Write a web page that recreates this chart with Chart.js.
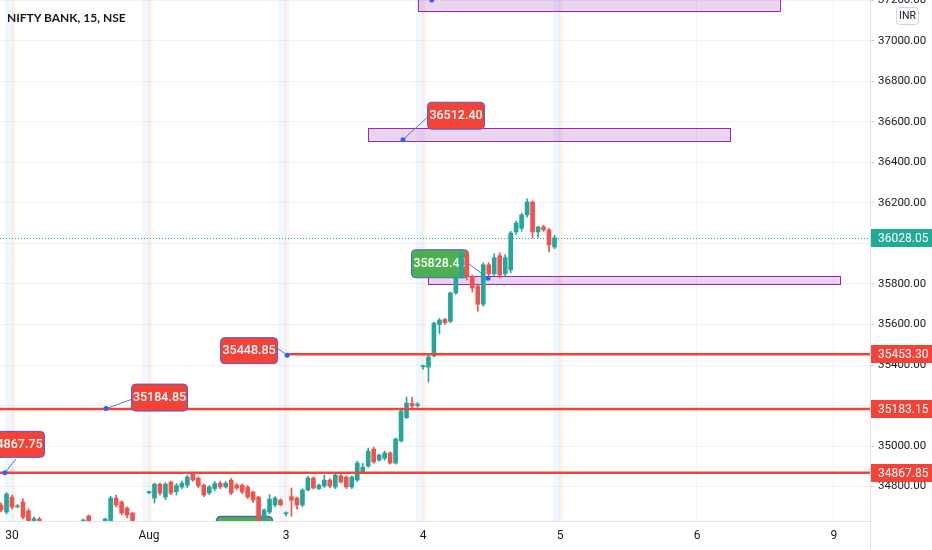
<!DOCTYPE html>
<html>
<head>
<meta charset="utf-8">
<script src="https://cdn.jsdelivr.net/npm/chart.js@4.4.1/dist/chart.umd.min.js"></script>
<style>
    html, body { margin: 0; padding: 0; background: #fff; }
    #wrap { position: relative; width: 932px; height: 550px; }
    #title { position: absolute; left: 7px; top: 10px; line-height: 16px; font: 700 12px Lato, sans-serif; color: #131722; }
</style>
</head>
<body>
<div id="wrap">
    <canvas id="chart" width="932" height="550"></canvas>
    <div id="title">NIFTY BANK, 15, NSE</div>
</div>
<script>
// 15 min bars, bar 0 = Jul 30 09:15, 25 bars per session
const firstBar = -2;

const opens = [
    34709, 34674,
    34748, 34700, 34724, 34680, 34600, 34640, 34600, 34555, 34520, 34545, 34500, 34530, 34575, 34560, 34655, 34610, 34575, 34590, 34620, 34743, 34724, 34694, 34669, 34610, 34575,
    34770, 34743, 34812, 34748, 34822, 34775, 34798, 34807, 34862, 34842, 34807, 34768, 34790, 34817, 34798, 34832, 34807, 34807, 34798, 34773, 34748, 34600, 34674, 34709, 34733,
    34666, 34750, 34743, 34709, 34783, 34842, 34790, 34803, 34832, 34798, 34852, 34847, 34798, 34832, 34872, 34901, 34985, 34931, 34940, 34966, 34916, 35025, 35140, 35212, 35200,
    35392, 35390, 35445, 35600, 35625, 35615, 35756, 35835, 35950, 35838, 35790, 35700, 35895, 35850, 35940, 35850, 35870, 36057, 36075, 36141, 36205, 36057, 36082, 36067, 35983
];
const highs = [
    34720, 34770,
    34758, 34712, 34740, 34690, 34650, 34648, 34610, 34580, 34560, 34570, 34540, 34590, 34600, 34640, 34660, 34625, 34600, 34645, 34752, 34758, 34730, 34700, 34672, 34620, 34600,
    34778, 34817, 34817, 34820, 34827, 34815, 34827, 34857, 34872, 34848, 34812, 34805, 34825, 34825, 34825, 34840, 34815, 34812, 34805, 34778, 34752, 34690, 34760, 34750, 34740,
    34675, 34793, 34748, 34790, 34850, 34848, 34812, 34857, 34840, 34862, 34860, 34852, 34852, 34926, 34915, 34990, 34995, 34960, 34975, 34972, 35040, 35178, 35242, 35240, 35215,
    35400, 35455, 35612, 35630, 35630, 35760, 35845, 35960, 35965, 35845, 35800, 35905, 35905, 35950, 35955, 35945, 36060, 36110, 36150, 36220, 36210, 36085, 36090, 36075, 36040
];
const lows = [
    34675, 34665,
    34690, 34695, 34640, 34600, 34585, 34590, 34540, 34500, 34470, 34490, 34450, 34520, 34540, 34555, 34600, 34560, 34550, 34580, 34615, 34700, 34660, 34645, 34590, 34560, 34560,
    34765, 34719, 34758, 34735, 34760, 34758, 34790, 34795, 34825, 34795, 34750, 34760, 34780, 34790, 34792, 34760, 34785, 34765, 34740, 34720, 34560, 34580, 34665, 34700, 34705,
    34655, 34654, 34689, 34700, 34778, 34788, 34785, 34795, 34795, 34790, 34818, 34790, 34790, 34825, 34865, 34895, 34915, 34925, 34930, 34910, 34910, 35020, 35135, 35190, 35192,
    35380, 35316, 35440, 35555, 35600, 35610, 35750, 35830, 35820, 35760, 35665, 35690, 35835, 35840, 35830, 35840, 35855, 36045, 36060, 36130, 36027, 36030, 36060, 35958, 35975
];
const closes = [
    34684, 34763,
    34699, 34705, 34649, 34615, 34642, 34600, 34555, 34520, 34545, 34500, 34530, 34575, 34560, 34635, 34610, 34575, 34590, 34640, 34743, 34709, 34669, 34659, 34610, 34575, 34584,
    34773, 34812, 34768, 34812, 34768, 34805, 34817, 34847, 34832, 34803, 34758, 34798, 34815, 34798, 34817, 34768, 34793, 34773, 34748, 34733, 34590, 34684, 34738, 34743, 34710,
    34669, 34733, 34709, 34783, 34842, 34793, 34807, 34832, 34803, 34857, 34822, 34798, 34847, 34916, 34896, 34975, 34921, 34956, 34966, 34916, 35035, 35173, 35212, 35198, 35207,
    35395, 35440, 35607, 35622, 35610, 35756, 35835, 35945, 35838, 35780, 35700, 35895, 35850, 35930, 35845, 35930, 36052, 36101, 36141, 36205, 36057, 36082, 36067, 35993, 36028.05
];

const dayStarts = [0, 25, 50, 75, 100, 125, 150];
const dayLabels = ['30', 'Aug', '3', '4', '5', '6', '9'];
const priceTicks = [34800, 35000, 35200, 35400, 35600, 35800, 36000, 36200, 36400, 36600, 36800, 37000, 37200];

const levelPrices = [35453.30, 35183.15, 34867.85];
const levelStarts = [50.2, -3, -3];
const lastPrice = 36028.05;

const UP = '#26a69a';
const DOWN = '#ef5350';
const RED = '#f44336';
const LINK = '#5b6ee1';

// purple zones: bar range and price range
const zones = [
    { from: 74.1, to: 140.1, low: 37148, high: 37400 },
    { from: 65.0, to: 131.0, low: 36506, high: 36570 },
    { from: 75.9, to: 151.1, low: 35797, high: 35838 }
];
const zoneDots = [[76.6, 37202]];

// callouts: anchor (bar, price), box offset from anchor [dx, dy, w, h], link tip offset
const callouts = [
    { text: '36512.40', bar: 71.35, price: 36512.40, box: [24, -38, 57, 27], tip: [24, -22] },
    { text: '35448.85', bar: 50.2, price: 35448.85, box: [-67, -18, 57, 26], tip: [-10, -7] },
    { text: '35184.85', bar: 17.15, price: 35184.85, box: [25, -25, 56, 27], tip: [25, -9] },
    { text: '34867.75', bar: -1.28, price: 34867.75, box: [-18, -42, 57, 26], tip: [11, -14] }
];
const greenCallout = { text: '35828.40', bar: 86.86, price: 35828.40, box: [-77, -29, 57, 28], tip: [-20, -15] };

const candleColors = opens.map((o, k) => closes[k] >= o ? UP : DOWN);
const bodies = opens.map((o, k) => ({ x: firstBar + k, y: [o, closes[k]] }));
const wicks = opens.map((o, k) => ({ x: firstBar + k, y: [lows[k], highs[k]] }));

function clipTo(ctx, a) {
    ctx.save();
    ctx.beginPath();
    ctx.rect(a.left, a.top, a.right - a.left, a.bottom - a.top);
    ctx.clip();
}

function drawCallout(ctx, chart, c, fill) {
    const x = chart.scales.x.getPixelForValue(c.bar);
    const y = chart.scales.y.getPixelForValue(c.price);
    const [dx, dy, w, h] = c.box;
    ctx.strokeStyle = LINK;
    ctx.lineWidth = 1;
    ctx.beginPath();
    ctx.moveTo(x, y);
    ctx.lineTo(x + c.tip[0], y + c.tip[1]);
    ctx.stroke();
    ctx.beginPath();
    ctx.roundRect(x + dx + 0.5, y + dy + 0.5, w, h, 4);
    ctx.fillStyle = fill;
    ctx.fill();
    ctx.strokeStyle = '#4f5fd0';
    ctx.stroke();
    ctx.fillStyle = '#fff';
    ctx.font = '500 12.5px Roboto';
    ctx.textAlign = 'center';
    ctx.textBaseline = 'middle';
    ctx.fillText(c.text, x + dx + w / 2 + 0.5, y + dy + h / 2 + 1);
}

function drawDot(ctx, x, y) {
    ctx.fillStyle = '#2962ff';
    ctx.beginPath();
    ctx.arc(x, y, 2.5, 0, Math.PI * 2);
    ctx.fill();
}

function axisTag(ctx, area, y, text, fill) {
    ctx.fillStyle = fill;
    ctx.fillRect(area.right + 1, Math.round(y) - 9, 62, 18);
    ctx.fillStyle = '#fff';
    ctx.font = '12px Roboto';
    ctx.textAlign = 'left';
    ctx.textBaseline = 'middle';
    ctx.fillText(text, area.right + 8, Math.round(y) + 0.5);
}

const drawingsPlugin = {
    id: 'drawings',
    beforeDatasetsDraw(chart) {
        const { ctx, chartArea: a, scales: { x, y } } = chart;
        clipTo(ctx, a);

        // session breaks
        dayStarts.slice(0, 5).forEach(d => {
            const px = x.getPixelForValue(d);
            ctx.fillStyle = 'rgba(41, 98, 255, 0.06)';
            ctx.fillRect(px - 7, a.top, 7, a.bottom - a.top);
            ctx.fillStyle = 'rgba(255, 167, 38, 0.12)';
            ctx.fillRect(px, a.top, 3, a.bottom - a.top);
        });

        zones.forEach(z => {
            const x1 = x.getPixelForValue(z.from);
            const x2 = x.getPixelForValue(z.to);
            const y1 = y.getPixelForValue(z.high);
            const y2 = y.getPixelForValue(z.low);
            ctx.fillStyle = 'rgba(156, 39, 176, 0.2)';
            ctx.fillRect(x1, y1, x2 - x1, y2 - y1);
            ctx.strokeStyle = '#9c27b0';
            ctx.lineWidth = 1;
            ctx.strokeRect(Math.round(x1) + 0.5, Math.round(y1) + 0.5, Math.round(x2 - x1), Math.round(y2 - y1));
        });

        // last price line
        const ly = Math.round(y.getPixelForValue(lastPrice)) + 0.5;
        ctx.strokeStyle = UP;
        ctx.lineWidth = 1;
        ctx.setLineDash([1, 2]);
        ctx.beginPath();
        ctx.moveTo(a.left, ly);
        ctx.lineTo(a.right, ly);
        ctx.stroke();
        ctx.setLineDash([]);

        drawCallout(ctx, chart, greenCallout, '#4caf50');

        // label peeking in at the bottom edge
        ctx.beginPath();
        ctx.roundRect(216.5, a.bottom - 4.5, 56, 20, 4);
        ctx.fillStyle = '#4caf50';
        ctx.fill();
        ctx.strokeStyle = '#4f5fd0';
        ctx.lineWidth = 1.5;
        ctx.stroke();

        ctx.restore();
    },
    afterDatasetsDraw(chart) {
        const { ctx, chartArea: a, scales: { x, y } } = chart;
        clipTo(ctx, a);

        levelPrices.forEach((p, k) => {
            const py = y.getPixelForValue(p);
            ctx.strokeStyle = RED;
            ctx.lineWidth = 2.5;
            ctx.beginPath();
            ctx.moveTo(x.getPixelForValue(levelStarts[k]), py);
            ctx.lineTo(a.right, py);
            ctx.stroke();
        });

        callouts.forEach(c => {
            drawCallout(ctx, chart, c, RED);
            drawDot(ctx, x.getPixelForValue(c.bar), y.getPixelForValue(c.price));
        });
        drawDot(ctx, x.getPixelForValue(greenCallout.bar), y.getPixelForValue(greenCallout.price));
        zoneDots.forEach(d => drawDot(ctx, x.getPixelForValue(d[0]), y.getPixelForValue(d[1])));

        ctx.restore();
    },
    afterDraw(chart) {
        const { ctx, chartArea: a, scales: { y } } = chart;
        ctx.save();
        ctx.strokeStyle = '#e0e3eb';
        ctx.lineWidth = 1;
        ctx.beginPath();
        ctx.moveTo(a.right + 0.5, a.bottom);
        ctx.lineTo(a.right + 0.5, chart.height);
        ctx.stroke();

        axisTag(ctx, a, y.getPixelForValue(lastPrice), lastPrice.toFixed(2), '#22ab94');
        levelPrices.forEach(p => axisTag(ctx, a, y.getPixelForValue(p), p.toFixed(2), RED));

        // currency badge
        ctx.fillStyle = '#fff';
        ctx.beginPath();
        ctx.roundRect(896.5, 7.5, 22, 17, 3);
        ctx.fill();
        ctx.strokeStyle = '#d1d4dc';
        ctx.stroke();
        ctx.fillStyle = '#131722';
        ctx.font = '10.5px Roboto';
        ctx.textAlign = 'center';
        ctx.textBaseline = 'middle';
        ctx.fillText('INR', 907.5, 16.5);
        ctx.restore();
    }
};

function initChart() {
    const ctx = document.getElementById('chart').getContext('2d');

    new Chart(ctx, {
        type: 'bar',
        data: {
            datasets: [
                {
                    data: bodies,
                    backgroundColor: candleColors,
                    barThickness: 4,
                    minBarLength: 1,
                    grouped: false,
                    order: 0
                },
                {
                    data: wicks,
                    backgroundColor: candleColors,
                    barThickness: 1,
                    grouped: false,
                    order: 1
                }
            ]
        },
        options: {
            responsive: false,
            animation: false,
            layout: { padding: 0 },
            plugins: {
                legend: { display: false },
                tooltip: { enabled: false }
            },
            scales: {
                x: {
                    type: 'linear',
                    min: -2.19,
                    max: 156.57,
                    offset: false,
                    grid: { offset: false, color: '#f0f3fa', drawTicks: false },
                    border: { color: '#e0e3eb' },
                    ticks: {
                        padding: 8,
                        color: '#131722',
                        font: { family: 'Roboto', size: 12 },
                        autoSkip: false,
                        maxRotation: 0,
                        callback: v => dayLabels[dayStarts.indexOf(v)]
                    },
                    afterBuildTicks: axis => { axis.ticks = dayStarts.map(v => ({ value: v })); },
                    afterFit: axis => {
                        axis.height = 29;
                        axis.paddingLeft = 0;
                        axis.paddingRight = 0;
                    }
                },
                y: {
                    position: 'right',
                    min: 34630,
                    max: 37202,
                    grid: { color: '#f0f3fa', tickColor: '#c8cbd3', tickLength: 4 },
                    border: { color: '#e0e3eb' },
                    ticks: {
                        padding: 4,
                        color: '#131722',
                        font: { family: 'Roboto', size: 11.5 },
                        callback: v => v.toFixed(2)
                    },
                    afterBuildTicks: axis => { axis.ticks = priceTicks.map(v => ({ value: v })); },
                    afterFit: axis => {
                        axis.width = 62;
                        axis.paddingTop = 0;
                        axis.paddingBottom = 0;
                    }
                }
            }
        },
        plugins: [drawingsPlugin]
    });
}

document.addEventListener('DOMContentLoaded', initChart);
</script>
</body>
</html>
